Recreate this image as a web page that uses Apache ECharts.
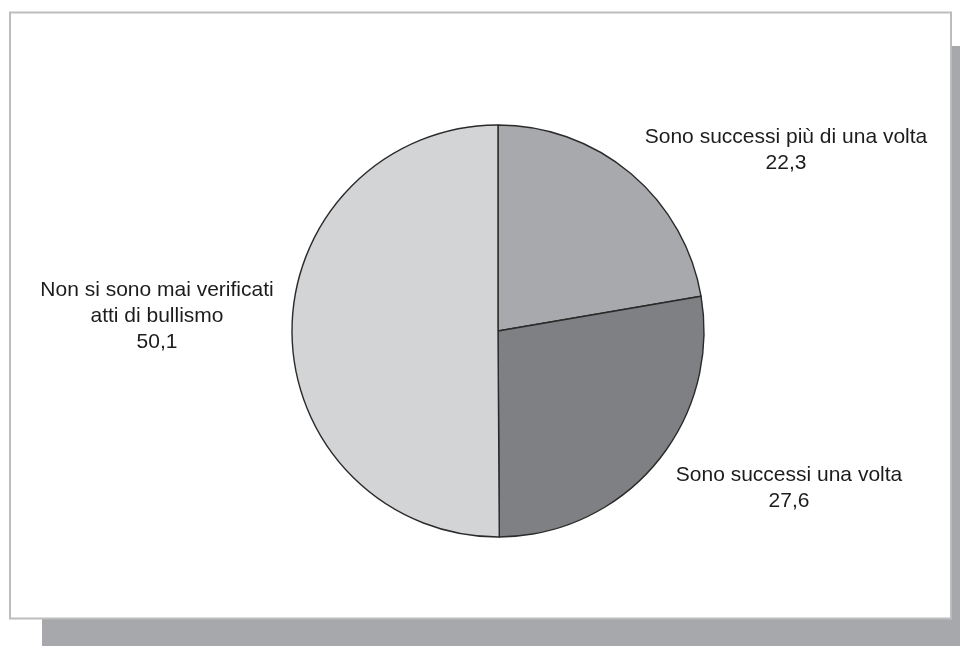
<!DOCTYPE html>
<html>
<head>
<meta charset="utf-8">
<script src="https://cdn.jsdelivr.net/npm/echarts@6/dist/echarts.min.js"></script>
<style>
  html, body { margin: 0; padding: 0; background: #ffffff; }
  #chart { width: 960px; height: 646px; }
</style>
</head>
<body>
<div id="chart"></div>
<script>
// Episodi di bullismo: quota percentuale per risposta
const categories = [
  'Sono successi più di una volta',
  'Sono successi una volta',
  'Non si sono mai verificati\natti di bullismo'
];
const values = [22.3, 27.6, 50.1];
const sliceColors = ['#a8a9ac', '#7f8083', '#d3d4d6'];

// where each text block sits (centre of the block)
const labelSpots = [
  { x: 786, y: 150 },
  { x: 789, y: 488 },
  { x: 157, y: 316 }
];

const fmt = v => v.toFixed(1).replace('.', ',');

const chart = echarts.init(document.getElementById('chart'), null, { renderer: 'canvas' });

chart.setOption({
  animation: false,
  backgroundColor: '#ffffff',
  graphic: [
    { type: 'rect', z: -10, shape: { x: 42, y: 46, width: 918, height: 600 }, style: { fill: '#a7a8ab' } },
    { type: 'rect', z: -9, shape: { x: 10, y: 12.5, width: 941, height: 606 }, style: { fill: '#ffffff', stroke: '#bdbdbd', lineWidth: 2 } }
  ],
  series: [{
    type: 'pie',
    center: [498, 331],
    radius: [0, 206],
    startAngle: 90,
    clockwise: true,
    avoidLabelOverlap: false,
    itemStyle: { borderColor: '#2a2a2a', borderWidth: 1.4 },
    emphasis: { disabled: true },
    labelLine: { show: false },
    label: {
      show: true,
      position: 'outside',
      color: '#1c1c1c',
      fontFamily: 'Liberation Sans, Arial, sans-serif',
      fontSize: 21,
      lineHeight: 26,
      align: 'center',
      formatter: p => p.name + '\n' + fmt(p.value)
    },
    labelLayout: p => ({
      x: labelSpots[p.dataIndex].x,
      y: labelSpots[p.dataIndex].y,
      align: 'center',
      verticalAlign: 'middle'
    }),
    data: categories.map((c, i) => ({
      name: c,
      value: values[i],
      itemStyle: { color: sliceColors[i] }
    }))
  }]
});
</script>
</body>
</html>
